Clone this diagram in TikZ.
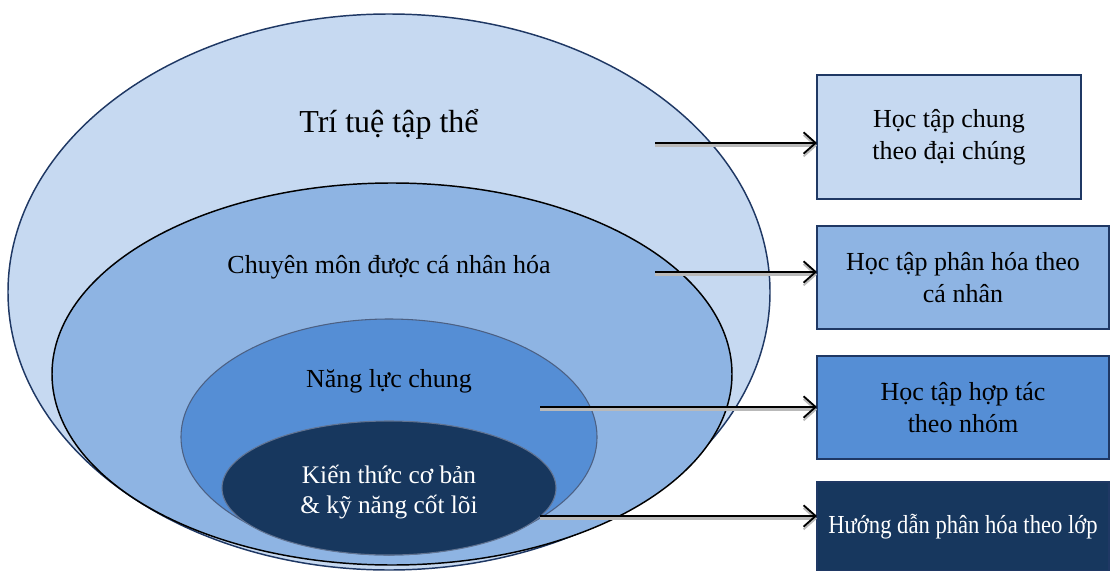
\documentclass[tikz,border=0pt]{standalone}
\usepackage{fontspec}
\setmainfont{Liberation Serif}
\usetikzlibrary{shapes.geometric, arrows.meta, positioning, calc}

\definecolor{paleblue}{HTML}{C6D9F1}
\definecolor{midblue}{HTML}{8EB4E3}
\definecolor{strongblue}{HTML}{558ED5}
\definecolor{navyblue}{HTML}{17375E}
\definecolor{edgeblue}{HTML}{1F3864}

\begin{document}
\begin{tikzpicture}[
    x=0.75pt, y=-0.75pt,
    ring/.style={ellipse, draw, inner sep=0pt, outer sep=0pt},
    target/.style={rectangle, draw=edgeblue, line width=1.5pt, align=center, inner sep=0pt, outer sep=0pt, font=\fontsize{19.5}{24}\selectfont},
    pipe/.style={-{Straight Barb[length=9pt, width=16pt, line width=1.4pt]}, line width=1.5pt,
        preaction={draw=gray!55, line width=2.5pt, transform canvas={yshift=-2pt}}}
]
\useasboundingbox (0,0) rectangle (1111,571);

% nested ellipses
\node[ring, draw=edgeblue, line width=1.1pt, fill=paleblue, minimum width=571.5pt, minimum height=417pt] (outer) at (389,292) {};
\node[ring, draw=black, line width=1.1pt, fill=midblue, minimum width=510pt, minimum height=286.5pt] (middle) at (392,374) {};
\node[ring, draw=edgeblue!80, line width=0.8pt, fill=strongblue, minimum width=312pt, minimum height=177pt] (common) at (389,437) {};
\node[ring, draw=edgeblue!70, line width=0.8pt, fill=navyblue, minimum width=250.5pt, minimum height=100.5pt] (core) at (389,488) {};

\node[font=\fontsize{24}{28}\selectfont] (outertxt) at (389,124) {Trí tuệ tập thể};
\node[font=\fontsize{19.5}{23}\selectfont] (middletxt) at (389,267) {Chuyên môn được cá nhân hóa};
\node[font=\fontsize{19.5}{23}\selectfont] (commontxt) at (389,381) {Năng lực chung};
\node[font=\fontsize{19}{23}\selectfont, text=white, align=center] (coretxt) at (389,492) {Kiến thức cơ bản\\\& kỹ năng cốt lõi};

% boxes on the right
\node[target, fill=paleblue, minimum width=198pt, minimum height=93pt] (common1) at (949,137) {Học tập chung\\theo đại chúng};
\node[target, fill=midblue, minimum width=219pt, minimum height=77.25pt] (personal) at (963,277.5) {Học tập phân hóa theo\\cá nhân};
\node[target, fill=strongblue, minimum width=219pt, minimum height=77.25pt] (group) at (963,407.5) {Học tập hợp tác\\theo nhóm};
\node[target, fill=navyblue, text=white, minimum width=219pt, minimum height=66.75pt] (class) at (963,526.5) {\scalebox{0.87}[1]{Hướng dẫn phân hóa theo lớp}};

\coordinate (s1) at (655,143);
\coordinate (s2) at (655,272);
\coordinate (s3) at (540,407);
\coordinate (s4) at (540,516);

\draw[pipe] (s1) -- (s1 -| common1.west);
\draw[pipe] (s2) -- (s2 -| personal.west);
\draw[pipe] (s3) -- (s3 -| group.west);
\draw[pipe] (s4) -- (s4 -| class.west);
\end{tikzpicture}
\end{document}
